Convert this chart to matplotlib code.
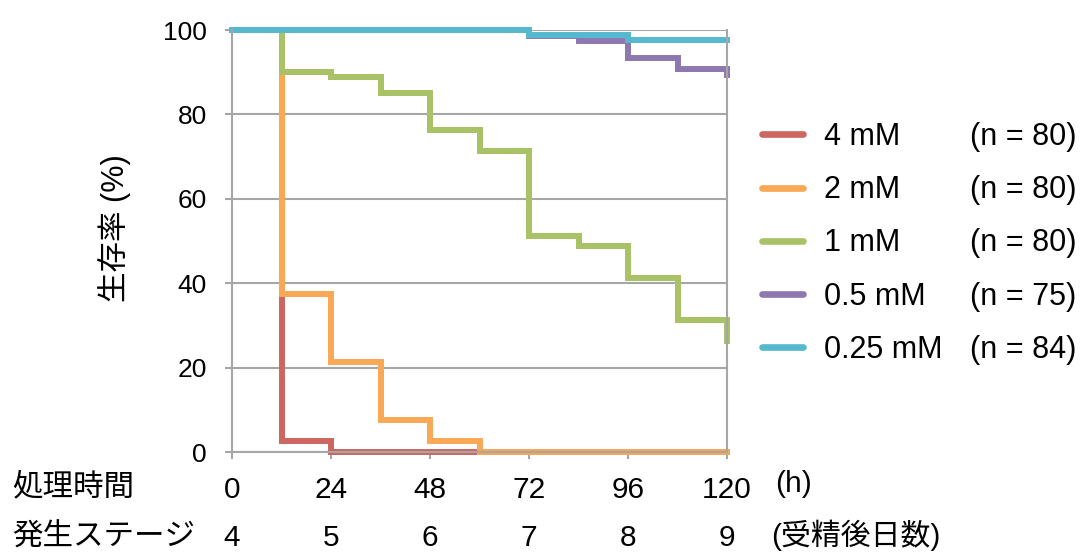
import numpy as np
import matplotlib
matplotlib.use("Agg")
import matplotlib.pyplot as plt
import matplotlib.transforms as mtransforms

plt.rcParams['font.family'] = ['Liberation Sans', 'Noto Sans CJK JP']

# data (survival %, every 12 h)
hours = np.arange(0, 121, 12)
surv_4mM = [100, 2.5, 0, 0, 0, 0, 0, 0, 0, 0, 0]
surv_2mM = [100, 37.5, 21.25, 7.5, 2.5, 0, 0, 0, 0, 0, 0]
surv_1mM = [100, 90, 88.75, 85, 76.25, 71.25, 51.25, 48.75, 41.25, 31.25, 26.25]
surv_05mM = [100, 100, 100, 100, 100, 100, 98.67, 97.33, 93.33, 90.67, 89.33]
surv_025mM = [100, 100, 100, 100, 100, 100, 98.8, 98.8, 97.6, 97.6, 97.6]

labels = ['4 mM', '2 mM', '1 mM', '0.5 mM', '0.25 mM']
n_counts = [80, 80, 80, 75, 84]
colors = ['#CD6660', '#F9A855', '#A9C265', '#8E78B0', '#56B8CF']

hour_ticks = [0, 24, 48, 72, 96, 120]
stages = [4, 5, 6, 7, 8, 9]

fs_y = 19
fs = 21.5
fs_jp = 22
grey = '#A6A6A6'

fig = plt.figure(figsize=(10.86, 5.54), dpi=100)
ax = fig.add_axes([232 / 1086, 1 - 452 / 554, (727 - 232) / 1086, (452 - 30) / 554])

series = [surv_4mM, surv_2mM, surv_1mM, surv_05mM, surv_025mM]
lines = []
for s, c, lab in zip(series, colors, labels):
    ln, = ax.plot(hours, s, drawstyle='steps-post', color=c, lw=4.3,
                  label=lab, solid_joinstyle='miter', clip_on=False)
    lines.append(ln)

ax.set_xlim(0, 120)
ax.set_ylim(0, 100)
ax.set_xticks(hour_ticks)
ax.set_yticks([0, 20, 40, 60, 80, 100])
ax.yaxis.grid(True, color=grey, lw=1.5)
ax.set_axisbelow(True)
for sp in ['left', 'bottom', 'right']:
    ax.spines[sp].set_color(grey)
    ax.spines[sp].set_linewidth(1.5)
ax.spines['top'].set_visible(False)
ax.tick_params(axis='both', colors=grey, labelcolor='black',
               width=1.5, length=5)
ax.tick_params(axis='y', pad=13, labelsize=fs_y)
ax.tick_params(axis='x', pad=12, labelsize=fs)

ax.set_ylabel('生存率 (%)', fontsize=fs_jp)
ax.yaxis.set_label_coords(-0.205, 0.53)

# second row under the axis: developmental stage
trans = mtransforms.blended_transform_factory(ax.transData, fig.transFigure)
for h, st in zip(hour_ticks, stages):
    ax.text(h, 1 - 538 / 554, str(st), transform=trans, ha='center', va='center',
            fontsize=fs)

fig.text(12 / 1086, 1 - 487 / 554, '処理時間', fontsize=fs_jp, ha='left', va='center')
fig.text(12 / 1086, 1 - 538 / 554, '発生ステージ', fontsize=fs_jp, ha='left', va='center')
fig.text(775 / 1086, 1 - 484 / 554, '(h)', fontsize=fs, ha='left', va='center')
fig.text(771 / 1086, 1 - 535 / 554, '(受精後日数)', fontsize=fs, ha='left', va='center')

leg = ax.legend(handles=lines, labels=labels, loc='upper left',
                bbox_to_anchor=(762 / 1086, 1 - 122 / 554), bbox_transform=fig.transFigure,
                frameon=False, fontsize=fs + 0.5, handlelength=1.34, handletextpad=0.69,
                labelspacing=0.76, borderpad=0, borderaxespad=0)
for lh in leg.get_lines():
    lh.set_linewidth(4.8)
    lh.set_solid_capstyle('round')

# n counts aligned with legend rows
fig.canvas.draw()
inv = fig.transFigure.inverted()
for t, n in zip(leg.get_texts(), n_counts):
    bb = t.get_window_extent()
    yc = inv.transform((0, (bb.y0 + bb.y1) / 2))[1]
    fig.text(970 / 1086, yc, f'(n = {n})', fontsize=fs + 0.5, ha='left', va='center')

fig.savefig('out.png', dpi=100)
